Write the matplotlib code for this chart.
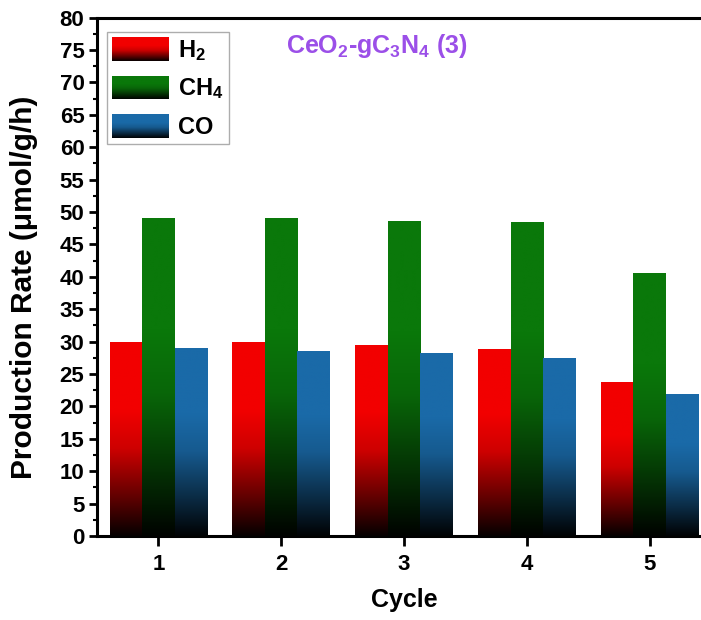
import numpy as np
import matplotlib
matplotlib.use("Agg")
import matplotlib.pyplot as plt
from matplotlib.colors import LinearSegmentedColormap, to_rgb

plt.rcParams['font.family'] = 'Liberation Sans'
plt.rcParams['font.weight'] = 'bold'
plt.rcParams['mathtext.fontset'] = 'custom'
plt.rcParams['mathtext.rm'] = 'Liberation Sans:bold'
plt.rcParams['mathtext.bf'] = 'Liberation Sans:bold'
plt.rcParams['mathtext.it'] = 'Liberation Sans:bold'

cycles = [1, 2, 3, 4, 5]
h2 = [30.0, 30.0, 29.4, 28.9, 23.8]
ch4 = [49.0, 49.0, 48.6, 48.4, 40.6]
co = [29.0, 28.6, 28.2, 27.5, 21.9]

series = [("H$_2$", h2, "#f20000"), ("CH$_4$", ch4, "#0a780a"), ("CO", co, "#1a6aa8")]


def fadeCmap(c):
    r, g, b = to_rgb(c)
    stops = [(0.0, 0.02), (0.2, 0.4), (0.45, 0.85), (0.65, 1.0), (1.0, 1.0)]
    return LinearSegmentedColormap.from_list(
        "fade", [(t, (r * k, g * k, b * k)) for t, k in stops])


grad = np.linspace(0, 1, 256).reshape(-1, 1)

fig = plt.figure(figsize=(7.01, 6.2), dpi=100)
ax = fig.add_axes([97 / 701, 84 / 620, 614 / 701, 518.5 / 620])

w = 0.265
x = np.array(cycles, dtype=float)
for i, (name, vals, col) in enumerate(series):
    bars = ax.bar(x + (i - 1) * w, vals, width=w, color=col, label=name, zorder=2)
    cm = fadeCmap(col)
    for b in bars:
        x0, y0 = b.get_x(), b.get_y()
        im = ax.imshow(grad, cmap=cm, origin='lower', aspect='auto',
                       extent=[x0, x0 + b.get_width(), y0, y0 + b.get_height()],
                       zorder=3, interpolation='bilinear')
        im.set_clip_path(b)

ax.set_xlim(0.5, 5.5)
ax.set_ylim(0, 80)
ax.set_xticks(cycles)
ax.set_yticks(np.arange(0, 81, 5))
ax.set_yticks(np.arange(0, 80, 2.5), minor=True)
ax.tick_params(axis='both', labelsize=16, width=2, direction='out')
ax.tick_params(axis='y', which='major', length=6, pad=3)
ax.tick_params(axis='y', which='minor', length=3, width=1.5)
ax.tick_params(axis='x', which='major', length=7, pad=6)
for s in ax.spines.values():
    s.set_linewidth(2.2)

ax.set_xlabel("Cycle", fontsize=18, fontweight='bold', labelpad=9)
ax.set_ylabel("Production Rate (μmol/g/h)", fontsize=21.5, fontweight='bold')
ax.yaxis.set_label_coords(-0.096, 0.48)

ax.text(0.456, 0.945, r"CeO$_\mathbf{2}$-gC$_\mathbf{3}$N$_\mathbf{4}$ (3)", transform=ax.transAxes,
        color="#9b4fe8", fontsize=18, fontweight='bold', ha='center', va='center')

leg = ax.legend(loc='upper left', bbox_to_anchor=(0.016, 0.972), fontsize=17, frameon=True,
                fancybox=False, edgecolor='#999999', handlelength=2.4, handleheight=1.15,
                labelspacing=0.55, borderpad=0.22, handletextpad=0.4, borderaxespad=0)
leg.get_frame().set_linewidth(1)

# gradient fill for legend swatches
fig.canvas.draw()
for p, (name, vals, col) in zip(leg.get_patches(), series):
    bb = p.get_window_extent().transformed(fig.transFigure.inverted())
    sub = fig.add_axes([bb.x0, bb.y0, bb.width, bb.height], zorder=10)
    sub.imshow(grad, cmap=fadeCmap(col), origin='lower', aspect='auto', interpolation='bilinear')
    sub.axis('off')

fig.savefig("out.png", dpi=100)
